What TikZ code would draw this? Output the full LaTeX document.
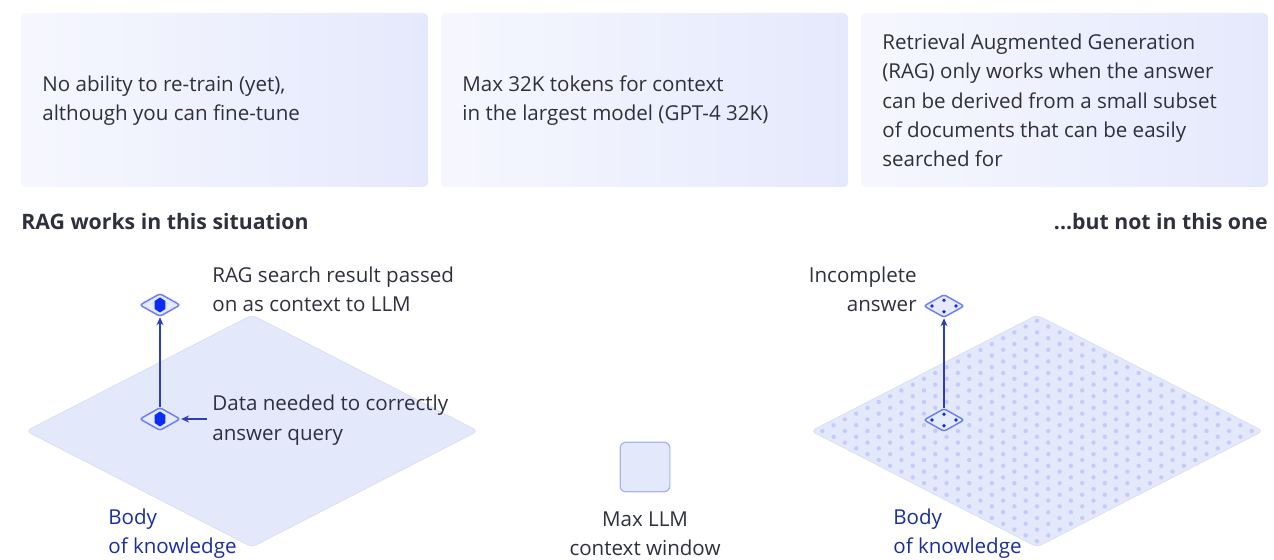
\documentclass[tikz,border=0pt]{standalone}
\usepackage{fontspec}
\setmainfont{Open Sans}
\usetikzlibrary{shapes.geometric,arrows.meta}

\definecolor{cardlite}{HTML}{F6F7FE}
\definecolor{carddeep}{HTML}{E5E9FC}
\definecolor{planefill}{HTML}{E4E8FB}
\definecolor{planeedge}{HTML}{D9DDF2}
\definecolor{dotc}{HTML}{C4CBF8}
\definecolor{iconline}{HTML}{6C80F5}
\definecolor{iconfill}{HTML}{E6EAFD}
\definecolor{iconblue}{HTML}{0A2CF5}
\definecolor{arrowc}{HTML}{2D3FB8}
\definecolor{textc}{HTML}{2E303E}
\definecolor{navyc}{HTML}{1A2E9E}

\tikzset{
  card/.style={left color=cardlite, right color=carddeep, rounded corners=2.5pt},
  plane/.style={fill=planefill, draw=planeedge, line width=0.4pt, rounded corners=3pt},
  tag/.style={diamond, draw=iconline, fill=iconfill, line width=0.85pt, rounded corners=1.5pt,
    minimum width=23.2pt, minimum height=13.2pt, inner sep=0pt},
  window/.style={rectangle, draw=iconline!60, fill=planefill, line width=0.7pt, rounded corners=3.4pt,
    minimum size=28.3pt, inner sep=0pt},
  conn/.style={draw=arrowc, line width=0.75pt, -{Stealth[length=4.5pt,width=4pt]}},
  txt/.style={text=textc, font=\fontsize{11.7}{16.7}\selectfont, align=left, inner sep=0pt},
  head/.style={text=textc, font=\fontsize{12.1}{14}\selectfont\bfseries, inner sep=0pt},
  know/.style={text=navyc, font=\fontsize{11.7}{16.7}\selectfont, align=left, inner sep=0pt}
}

\begin{document}
\begin{tikzpicture}[x=0.02cm, y=-0.02cm]
  \useasboundingbox (0,0) rectangle (1274,560);

  % top cards
  \shade[card] (21,13) rectangle (428,187);
  \shade[card] (441,13) rectangle (848,187);
  \shade[card] (861,13) rectangle (1268,187);
  \node[txt, anchor=west] (t1) at (42,100.5) {No ability to re-train (yet),\\although you can fine-tune};
  \node[txt, anchor=west] (t2) at (462,100.5) {Max 32K tokens for context\\in the largest model (GPT-4 32K)};
  \node[txt, anchor=west] (t3) at (882,100.5) {Retrieval Augmented Generation\\(RAG) only works when the answer\\can be derived from a small subset\\of documents that can be easily\\searched for};

  \node[head, anchor=west] (hl) at (21,222) {RAG works in this situation};
  \node[head, anchor=east] (hr) at (1268,222) {...but not in this one};

  % left plane
  \draw[plane] (252,315) -- (478,431) -- (252,547) -- (26,431) -- cycle;

  % right plane with dots
  \draw[plane] (1037,315) -- (1263,431) -- (1037,547) -- (811,431) -- cycle;
  \foreach \i in {-9.5,-8.5,...,9.5}
    \foreach \j in {-9.5,-8.5,...,9.5}
      \fill[dotc] ({1037+11.3*(\i-\j)},{431+5.8*(\i+\j)}) circle (1.25pt);

  % icons
  \node[tag] (lup) at (160,305) {};
  \node[tag] (ldn) at (160,419) {};
  \node[tag] (rup) at (944,306) {};
  \node[tag] (rdn) at (944,420) {};
  \foreach \n in {lup,ldn} {
    \fill[iconblue, shift={(\n)}] (0,-7.5) -- (5.4,-4) -- (5.4,4) -- (0,7.5) -- (-5.4,4) -- (-5.4,-4) -- cycle;
  }
  \foreach \n in {rup,rdn} {
    \begin{scope}[shift={(\n)}]
      \fill[iconblue] (0,-5.8) circle (1.1pt) (0,5.8) circle (1.1pt)
        (-12,0) circle (1.1pt) (12,0) circle (1.1pt);
    \end{scope}
  }

  \coordinate (dtip) at (207,419);
  \draw[conn] (ldn) -- (lup);
  \draw[conn] (dtip) -- (ldn);
  \draw[conn] (rdn) -- (rup);

  % labels
  \node[txt, anchor=west] (lres) at (212,289.5) {RAG search result passed\\on as context to LLM};
  \node[txt, anchor=west] (ldata) at (212,420) {Data needed to correctly\\answer query};
  \node[txt, anchor=east, align=right] (linc) at (917,289.5) {Incomplete\\answer};
  \node[know, anchor=west] (kl) at (108,533.5) {Body\\of knowledge};
  \node[know, anchor=west] (kr) at (893,533.5) {Body\\of knowledge};

  \node[window] (win) at (645,467) {};
  \node[txt, align=center] (lwin) at (645,533.5) {Max LLM\\context window};
\end{tikzpicture}
\end{document}
